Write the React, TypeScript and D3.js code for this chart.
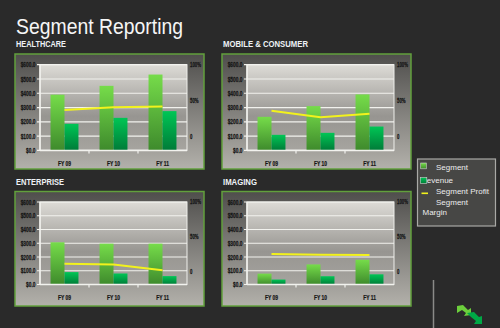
import React from "react";
import * as d3 from "d3";

const categories = ["FY 09", "FY 10", "FY 11"];
const segmentNames = ["HEALTHCARE", "MOBILE & CONSUMER", "ENTERPRISE", "IMAGING"];

const healthcareRevenue = [390, 452, 531];
const healthcareProfit = [186, 228, 275];
const healthcareMargin = [0.37, 0.41, 0.42];

const mobileRevenue = [235, 310, 392];
const mobileProfit = [109, 123, 167];
const mobileMargin = [0.36, 0.27, 0.32];

const enterpriseRevenue = [307, 297, 297];
const enterpriseProfit = [90, 80, 61];
const enterpriseMargin = [0.11, 0.1, 0.015];

const imagingRevenue = [79, 146, 180];
const imagingProfit = [36, 60, 74];
const imagingMargin = [0.25, 0.24, 0.235];

const leftTicks = [0, 100, 200, 300, 400, 500, 600];
const rightTicks = [0, 0.5, 1];
const rightTickLabels = ["0", "50%", "100%"];
const legendLabels = ["Segment Revenue", "Segment Profit", "Segment Margin"];

const FONT = "'Liberation Sans', Arial, sans-serif";

const segments = [
  { name: segmentNames[0], rev: healthcareRevenue, prof: healthcareProfit, margin: healthcareMargin },
  { name: segmentNames[1], rev: mobileRevenue, prof: mobileProfit, margin: mobileMargin },
  { name: segmentNames[2], rev: enterpriseRevenue, prof: enterpriseProfit, margin: enterpriseMargin },
  { name: segmentNames[3], rev: imagingRevenue, prof: imagingProfit, margin: imagingMargin },
];

const layout = [
  { px: 15, py: 54, pw: 189, ph: 115, plotTop: 64.7, plotBottom: 150.4, headY: 47, headW: 50 },
  { px: 222, py: 54, pw: 189, ph: 115, plotTop: 64.7, plotBottom: 150.4, headY: 47, headW: 85 },
  { px: 15, py: 191.5, pw: 189, ph: 114.5, plotTop: 202, plotBottom: 284.5, headY: 185, headW: 48 },
  { px: 222, py: 191.5, pw: 189, ph: 114.5, plotTop: 202, plotBottom: 284.5, headY: 184.5, headW: 34 },
];

function CText({ x, y, sx, anchor, size, weight, fill, children }: any) {
  return (
    <text
      transform={`translate(${x},${y}) scale(${sx},1)`}
      textAnchor={anchor}
      fontSize={size}
      fontWeight={weight}
      fill={fill}
      stroke={fill}
      strokeWidth={0.25}
      fontFamily={FONT}
    >
      {children}
    </text>
  );
}

function Panel({ seg, lay }: any) {
  const plotLeft = lay.px + 25;
  const plotRight = plotLeft + 147;
  const x = d3
    .scaleBand<string>()
    .domain(categories)
    .range([plotLeft, plotRight])
    .paddingInner(0.43)
    .paddingOuter(0.215);
  const xs = d3.scaleBand<string>().domain(["rev", "prof"]).range([0, x.bandwidth()]).padding(0);
  const y = d3.scaleLinear().domain([0, 600]).range([lay.plotBottom, lay.plotTop]);
  const yr = d3.scaleLinear().domain([-0.19, 1]).range([lay.plotBottom, lay.plotTop]);
  const line = d3
    .line<number>()
    .x((_, i) => (x(categories[i]) as number) + x.bandwidth() / 2)
    .y((d) => yr(d));
  const step = x.step();
  return (
    <g>
      <rect x={lay.px} y={lay.py} width={lay.pw} height={lay.ph} fill="url(#panelGrad)" stroke="#62a03c" strokeWidth={1.5} />
      <text x={lay.px + 1} y={lay.headY} fontSize={8.4} fontFamily={FONT} fill="#eef2f6" fontWeight="bold" textLength={lay.headW} lengthAdjust="spacingAndGlyphs">
        {seg.name}
      </text>
      <rect x={plotLeft} y={lay.plotTop} width={plotRight - plotLeft} height={lay.plotBottom - lay.plotTop} fill="url(#plotGrad)" stroke="#eeeeea" strokeWidth={1} />
      {leftTicks.map((t) => (
        <g key={t}>
          <line x1={plotLeft - 3} x2={plotRight} y1={y(t)} y2={y(t)} stroke="#f2f2ee" strokeWidth={1.2} />
          <CText x={plotLeft - 4.5} y={y(t) + 2.6} sx={0.64} anchor="end" size={7.6} weight="bold" fill="#161616">
            {"$" + t.toFixed(1)}
          </CText>
        </g>
      ))}
      {rightTicks.map((t, i) => (
        <CText key={t} x={plotRight + 3} y={yr(t) + 2.2} sx={0.66} anchor="start" size={6.5} weight="bold" fill="#161616">
          {rightTickLabels[i]}
        </CText>
      ))}
      {categories.map((c, i) => (
        <g key={c}>
          <rect
            x={(x(c) as number) + (xs("rev") as number)}
            y={y(seg.rev[i])}
            width={xs.bandwidth()}
            height={y(0) - y(seg.rev[i])}
            fill="url(#revGrad)"
          />
          <rect
            x={(x(c) as number) + (xs("prof") as number)}
            y={y(seg.prof[i])}
            width={xs.bandwidth()}
            height={y(0) - y(seg.prof[i])}
            fill="url(#profGrad)"
          />
          <CText x={(x(c) as number) + x.bandwidth() / 2} y={y(0) + 15.5} sx={0.63} anchor="middle" size={7.8} weight="bold" fill="#161616">
            {c}
          </CText>
        </g>
      ))}
      <line x1={plotLeft} x2={plotRight} y1={y(0)} y2={y(0)} stroke="#f2f2ee" strokeWidth={1.5} />
      <line x1={plotLeft} x2={plotLeft} y1={lay.plotTop} y2={y(0)} stroke="#f2f2ee" strokeWidth={1.5} />
      {[1, 2].map((k) => (
        <line key={k} x1={plotLeft + step * k} x2={plotLeft + step * k} y1={y(0)} y2={y(0) + 3} stroke="#f2f2ee" strokeWidth={1.2} />
      ))}
      <path d={line(seg.margin) as string} fill="none" stroke="#f2f21c" strokeWidth={2} />
    </g>
  );
}

export default function App() {
  return (
    <div style={{ position: "absolute", left: 0, top: 0 }}>
      <svg width={500} height={328} style={{ display: "block" }}>
        <defs>
          <linearGradient id="panelGrad" x1="0" y1="0" x2="0" y2="1">
            <stop offset="0" stopColor="#4f4e4c" />
            <stop offset="1" stopColor="#b3b1ab" />
          </linearGradient>
          <linearGradient id="plotGrad" x1="0" y1="0" x2="0" y2="1">
            <stop offset="0" stopColor="#dddbd6" />
            <stop offset="0.6" stopColor="#979591" />
            <stop offset="1" stopColor="#a6a49f" />
          </linearGradient>
          <linearGradient id="revGrad" x1="0" y1="0" x2="0" y2="1">
            <stop offset="0" stopColor="#76dc4a" />
            <stop offset="1" stopColor="#3e8a2c" />
          </linearGradient>
          <linearGradient id="profGrad" x1="0" y1="0" x2="0" y2="1">
            <stop offset="0" stopColor="#00c655" />
            <stop offset="1" stopColor="#007b38" />
          </linearGradient>
        </defs>
        <rect x={0} y={0} width={500} height={328} fill="#2a2a2a" />
        <text x={16} y={33.5} fontSize={22} fontFamily={FONT} fill="#f6f6f6" textLength={167} lengthAdjust="spacingAndGlyphs">
          Segment Reporting
        </text>
        {segments.map((s, i) => (
          <Panel key={s.name} seg={s} lay={layout[i]} />
        ))}
        {/* legend */}
        <g fontFamily={FONT} fontSize={8} fill="#ececec">
          <rect x={417.5} y={159} width={78} height={67} fill="#474745" stroke="#a9a9a6" strokeWidth={1.2} />
          <text x={421} y={183}>{legendLabels[0].split(" ")[1]}</text>
          <rect x={420.7} y={163} width={5.6} height={5.8} fill="url(#revGrad)" stroke="#cfcfcf" strokeWidth={0.6} />
          <text x={436} y={170}>{legendLabels[0].split(" ")[0]}</text>
          <rect x={420.3} y={177.5} width={6.5} height={6} fill="url(#profGrad)" stroke="#cfcfcf" strokeWidth={0.6} />
          <line x1={421.5} x2={428} y1={193.3} y2={193.3} stroke="#f2f21c" strokeWidth={1.6} />
          <text x={436} y={194.3}>{legendLabels[1]}</text>
          <text x={436} y={204.7}>{legendLabels[2].split(" ")[0]}</text>
          <text x={422.5} y={215.3}>{legendLabels[2].split(" ")[1]}</text>
        </g>
        {/* logo */}
        <line x1={433.5} x2={433.5} y1={280} y2={328} stroke="#8a8a88" strokeWidth={1.5} />
        <path d="M457,306 L463,305 L468,310 L471,308 L471,315 L464,316 L466,313 L462,310 L457,313 Z" fill="#6ccf3c" />
        <path d="M467,313 L474,312 L479,317 L482,316 L482,324 L474,324 L476,321 L471,317 Z" fill="#00a846" />
      </svg>
    </div>
  );
}
